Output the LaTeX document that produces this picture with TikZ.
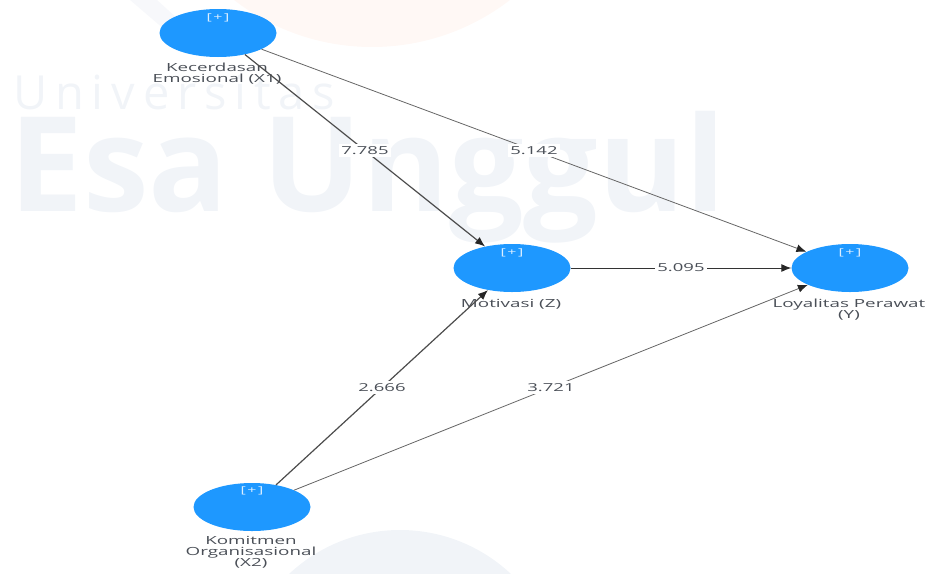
\documentclass[tikz,border=0pt]{standalone}
\usepackage{fontspec}
\usetikzlibrary{shapes.geometric,arrows.meta}
\setmainfont[FakeStretch=1.68]{Open Sans}
\newfontfamily\markfont{Open Sans}
\definecolor{lvblue}{HTML}{1E98FF}
\definecolor{markgray}{HTML}{F1F4F8}
\definecolor{markpink}{HTML}{FFF8F5}
\definecolor{lvtext}{HTML}{4A4F57}
\tikzset{
	lv/.style={ellipse,fill=lvblue,minimum width=117pt,minimum height=48pt,inner sep=0pt},
	lvname/.style={text=lvtext,font=\fontsize{11.2}{11}\selectfont,align=center,inner sep=0pt},
	lvplus/.style={text=white!85!lvblue,font=\fontsize{9.5}{9.5}\selectfont,inner sep=0pt},
	coef/.style={midway,fill=white,text=lvtext,font=\fontsize{11}{11}\selectfont,inner sep=2pt},
	lightpath/.style={-{Latex[length=10pt,width=8pt,color=black!85]},draw=black!60,line width=0.8pt},
	midpath/.style={-{Latex[length=10pt,width=8pt,color=black!85]},draw=black!80,line width=0.9pt},
	heavypath/.style={-{Latex[length=10pt,width=8pt,color=black!85]},draw=black!70,line width=1.2pt}
}
\begin{document}
\begin{tikzpicture}[x=1pt,y=-1pt]
	\useasboundingbox (0,0) rectangle (931,573);
	\begin{scope}
		\clip (0,0) rectangle (931,573);
		\fill[markpink] (372,-179) circle (226);
		\fill[markgray!60] (130,0) -- (157,0) -- (190,30) -- (165,30) -- cycle;
		\fill[markgray] (400,692) circle (162);
	\end{scope}

	\node (mark1) [anchor=west,text=markgray,font=\markfont\fontsize{47}{47}\selectfont,inner sep=0pt] at (13,92) {U\,n\,i\,v\,e\,r\,s\,i\,t\,a\,s};
	\node (mark2) [anchor=west,text=markgray,font=\markfont\bfseries\fontsize{132}{132}\selectfont,inner sep=0pt] at (9,177) {Esa Unggul};

	\node (X1) [lv] at (218,33) {};
	\node (Z)  [lv] at (512,268) {};
	\node (Y)  [lv] at (850,268) {};
	\node (X2) [lv] at (252,507) {};

	\node (plusX1) [lvplus] at (218,18) {[\,+\,]};
	\node (plusZ)  [lvplus] at (512,253) {[\,+\,]};
	\node (plusY)  [lvplus] at (850,253) {[\,+\,]};
	\node (plusX2) [lvplus] at (252,491) {[\,+\,]};

	\node (nameX1) [lvname] at (217,74) {Kecerdasan\\Emosional (X1)};
	\node (nameZ)  [lvname] at (511,304) {Motivasi (Z)};
	\node (nameY)  [lvname] at (849,310) {Loyalitas Perawat\\(Y)};
	\node (nameX2) [lvname] at (251,552) {Komitmen\\Organisasional\\(X2)};

	\draw[heavypath] (X1) -- (Z) node [coef] {7.785};
	\draw[lightpath] (X1) -- (Y) node [coef] {5.142};
	\draw[midpath] (Z) -- (Y) node [coef] {5.095};
	\draw[heavypath] (X2) -- (Z) node [coef] {2.666};
	\draw[lightpath] (X2) -- (Y) node [coef] {3.721};
\end{tikzpicture}
\end{document}
